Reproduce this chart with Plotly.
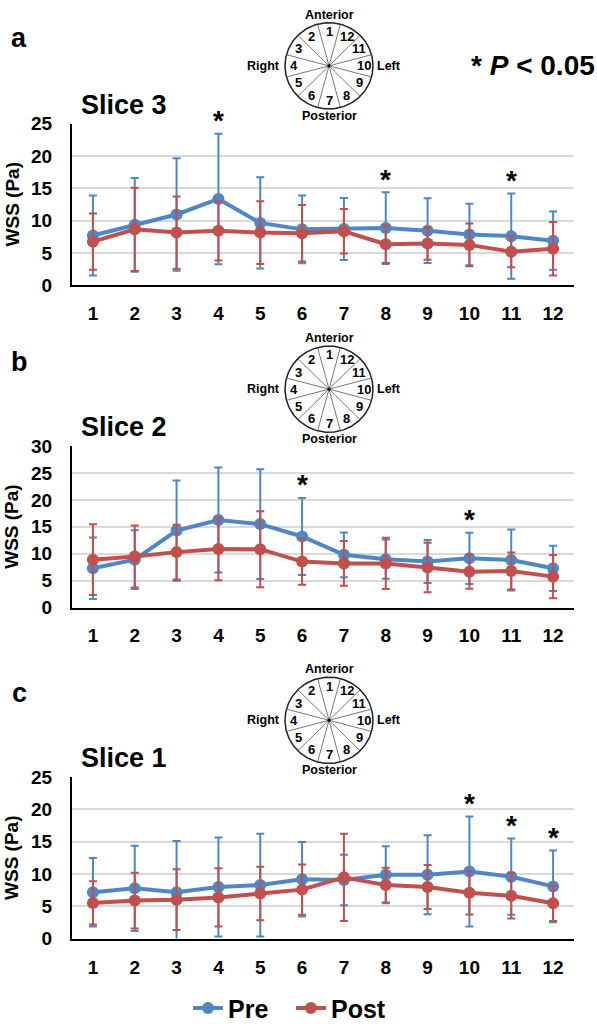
import numpy as np
import plotly.graph_objects as go

W, H = 597, 1035
FONT = "Arial, Liberation Sans, sans-serif"
BLUE = "#4f87c5"
RED = "#c0504d"

segments = list(range(1, 13))
seg_labels = [str(s) for s in segments]

# Slice 3 (panel a)
s3_pre = [7.7, 9.35, 10.95, 13.35, 9.65, 8.65, 8.7, 8.85, 8.45, 7.85, 7.6, 6.9]
s3_pre_err = [6.2, 7.25, 8.7, 10.1, 7.05, 5.25, 4.8, 5.55, 5.0, 4.75, 6.6, 4.5]
s3_post = [6.75, 8.65, 8.15, 8.45, 8.15, 8.05, 8.35, 6.35, 6.45, 6.25, 5.2, 5.65]
s3_post_err = [4.35, 6.45, 5.6, 4.6, 4.85, 4.35, 3.45, 2.9, 2.5, 3.3, 2.4, 4.15]
s3_sig = [4, 8, 11]

# Slice 2 (panel b)
s2_pre = [7.3, 8.9, 14.3, 16.25, 15.5, 13.2, 9.8, 9.0, 8.55, 9.15, 8.85, 7.3]
s2_pre_err = [5.7, 5.45, 9.3, 9.75, 10.2, 7.15, 4.15, 3.65, 4.0, 4.75, 5.65, 4.2]
s2_post = [8.9, 9.5, 10.3, 10.9, 10.85, 8.55, 8.2, 8.2, 7.45, 6.65, 6.8, 5.75]
s2_post_err = [6.55, 5.75, 5.1, 5.8, 7.05, 4.3, 4.15, 4.75, 4.6, 3.15, 3.45, 4.0]
s2_sig = [6, 10]

# Slice 1 (panel c)
s1_pre = [7.2, 7.8, 7.2, 8.0, 8.3, 9.2, 9.1, 9.9, 9.9, 10.4, 9.6, 8.1]
s1_pre_err = [5.3, 6.6, 7.9, 7.65, 7.95, 5.75, 3.9, 4.4, 6.1, 8.5, 5.9, 5.55]
s1_post = [5.55, 5.9, 6.05, 6.4, 7.0, 7.6, 9.5, 8.3, 8.0, 7.1, 6.65, 5.5]
s1_post_err = [3.35, 4.3, 4.7, 4.5, 4.15, 3.9, 6.75, 2.7, 3.4, 3.35, 3.5, 2.75]
s1_sig = [10, 11, 12]

panels = [
    dict(letter="a", title="Slice 3", pre=s3_pre, pre_err=s3_pre_err, post=s3_post,
         post_err=s3_post_err, sig=s3_sig, ymax=25, top=116, clock=57),
    dict(letter="b", title="Slice 2", pre=s2_pre, pre_err=s2_pre_err, post=s2_post,
         post_err=s2_post_err, sig=s2_sig, ymax=30, top=445, clock=387),
    dict(letter="c", title="Slice 1", pre=s1_pre, pre_err=s1_pre_err, post=s1_post,
         post_err=s1_post_err, sig=s1_sig, ymax=25, top=783, clock=725),
]

PLOT_H = 165
X0, X1 = 72, 574
CLOCK_CX = 329
CLOCK_R = 44


def px(x):
    return x / W


def py(y):
    return 1 - y / H


fig = go.Figure()
annotations = []
layout_axes = {}

for i, p in enumerate(panels):
    n = i + 1
    xa = "x" if n == 1 else f"x{n}"
    ya = "y" if n == 1 else f"y{n}"
    for name, vals, errs, col in [("Pre", p["pre"], p["pre_err"], BLUE),
                                  ("Post", p["post"], p["post_err"], RED)]:
        fig.add_trace(go.Scatter(
            x=segments, y=vals, name=name, mode="lines+markers",
            line=dict(color=col, width=4), marker=dict(color=col, size=12),
            error_y=dict(type="data", array=errs, visible=True, color=col,
                         thickness=2, width=4),
            xaxis=xa, yaxis=ya, showlegend=(n == 1), legendgroup=name,
            cliponaxis=True,
        ))
    top = p["top"]
    bot = top + PLOT_H
    layout_axes[f"xaxis{'' if n == 1 else n}"] = dict(
        domain=[px(X0), px(X1)], anchor=ya, range=[0.5, 12.5],
        tickmode="array", tickvals=segments, ticktext=seg_labels,
        showline=True, linecolor="black", linewidth=2, showgrid=False,
        zeroline=False, ticks="", ticklabelstandoff=10,
        tickfont=dict(family=FONT, size=19, color="black", weight="bold"),
        fixedrange=True,
    )
    layout_axes[f"yaxis{'' if n == 1 else n}"] = dict(
        domain=[py(bot), py(top)], anchor=xa, range=[0, p["ymax"]], dtick=5,
        showline=True, linecolor="black", linewidth=2, showgrid=True,
        gridcolor="#d9d9d9", gridwidth=1.5, zeroline=False, ticks="",
        ticklabelstandoff=14,
        tickfont=dict(family=FONT, size=19, color="black", weight="bold"),
        fixedrange=True,
    )
    # y-axis title
    annotations.append(dict(
        text="<b>WSS (Pa)</b>", x=px(12), y=py((top + bot) / 2), xref="paper",
        yref="paper", showarrow=False, textangle=-90, xanchor="center",
        yanchor="middle", font=dict(family=FONT, size=19, color="black")))
    # panel letter
    annotations.append(dict(
        text=f"<b>{p['letter']}</b>", x=px(19), y=py(p["clock"] - 28), xref="paper",
        yref="paper", showarrow=False, xanchor="center", yanchor="middle",
        font=dict(family=FONT, size=27, color="black")))
    # slice title
    annotations.append(dict(
        text=f"<b>{p['title']}</b>", x=px(79), y=py(top - 19), xref="paper",
        yref="paper", showarrow=False, xanchor="left", yanchor="middle",
        font=dict(family=FONT, size=27, color="black")))
    # significance asterisks
    for s in p["sig"]:
        k = s - 1
        annotations.append(dict(
            text="<b>*</b>", x=s, y=p["pre"][k] + p["pre_err"][k], xref=xa, yref=ya,
            showarrow=False, xanchor="center", yanchor="middle", yshift=13,
            font=dict(family=FONT, size=28, color="black")))

    # clock diagram on its own axes (units = pixels)
    cn = n + 3
    cx_ax, cy_ax = f"x{cn}", f"y{cn}"
    cy = p["clock"]
    layout_axes[f"xaxis{cn}"] = dict(
        domain=[px(CLOCK_CX - 50), px(CLOCK_CX + 50)], range=[-50, 50], anchor=cy_ax,
        visible=False, fixedrange=True)
    layout_axes[f"yaxis{cn}"] = dict(
        domain=[py(cy + 50), py(cy - 50)], range=[-50, 50], anchor=cx_ax,
        visible=False, fixedrange=True)
    t = np.linspace(0, 2 * np.pi, 181)
    fig.add_trace(go.Scatter(
        x=CLOCK_R * np.cos(t), y=CLOCK_R * np.sin(t), mode="lines",
        line=dict(color="#222222", width=1.5), xaxis=cx_ax, yaxis=cy_ax,
        showlegend=False, hoverinfo="skip", cliponaxis=False))
    sx, sy = [], []
    for k in range(12):
        a = np.deg2rad(15 + 30 * k)
        sx += [0, CLOCK_R * np.cos(a), None]
        sy += [0, CLOCK_R * np.sin(a), None]
    fig.add_trace(go.Scatter(
        x=sx, y=sy, mode="lines", line=dict(color="#555555", width=0.8),
        xaxis=cx_ax, yaxis=cy_ax, showlegend=False, hoverinfo="skip",
        cliponaxis=False))
    fig.add_trace(go.Scatter(
        x=[0], y=[0], mode="markers", marker=dict(color="black", size=3),
        xaxis=cx_ax, yaxis=cy_ax, showlegend=False, hoverinfo="skip"))
    for k, lab in enumerate(seg_labels):
        a = np.deg2rad(90 + 30 * k)
        annotations.append(dict(
            text=f"<b>{lab}</b>", x=35 * np.cos(a), y=35 * np.sin(a),
            xref=cx_ax, yref=cy_ax, showarrow=False, xanchor="center",
            yanchor="middle", font=dict(family=FONT, size=13, color="black")))
    for txt, dx, dy, xan in [("Anterior", 0, -52, "center"), ("Posterior", 0, 51, "center"),
                             ("Right", -47, 0, "right"), ("Left", 46, 0, "left")]:
        annotations.append(dict(
            text=f"<b>{txt}</b>", x=px(CLOCK_CX + dx), y=py(cy + dy), xref="paper",
            yref="paper", showarrow=False, xanchor=xan, yanchor="middle",
            font=dict(family=FONT, size=12.5, color="black")))

annotations.append(dict(
    text="<b>* <i>P</i> < 0.05</b>", x=px(597), y=py(57), xref="paper", yref="paper",
    showarrow=False, xanchor="right", yanchor="middle",
    font=dict(family=FONT, size=28, color="black")))

fig.update_layout(
    width=W, height=H, margin=dict(l=0, r=0, t=0, b=0),
    paper_bgcolor="white", plot_bgcolor="white",
    font=dict(family=FONT, color="black"),
    annotations=annotations,
    legend=dict(orientation="h", x=px(188), y=py(1019), xanchor="left",
                yanchor="middle", font=dict(family=FONT, size=25, color="black",
                                            weight="bold"),
                bgcolor="rgba(0,0,0,0)", itemwidth=30, tracegroupgap=0,
                entrywidth=58),
    **layout_axes,
)

fig.write_html(
    "out.html",
    config={"displayModeBar": False},
    post_script="document.body.style.margin='0';document.body.style.overflow='hidden';",
)
